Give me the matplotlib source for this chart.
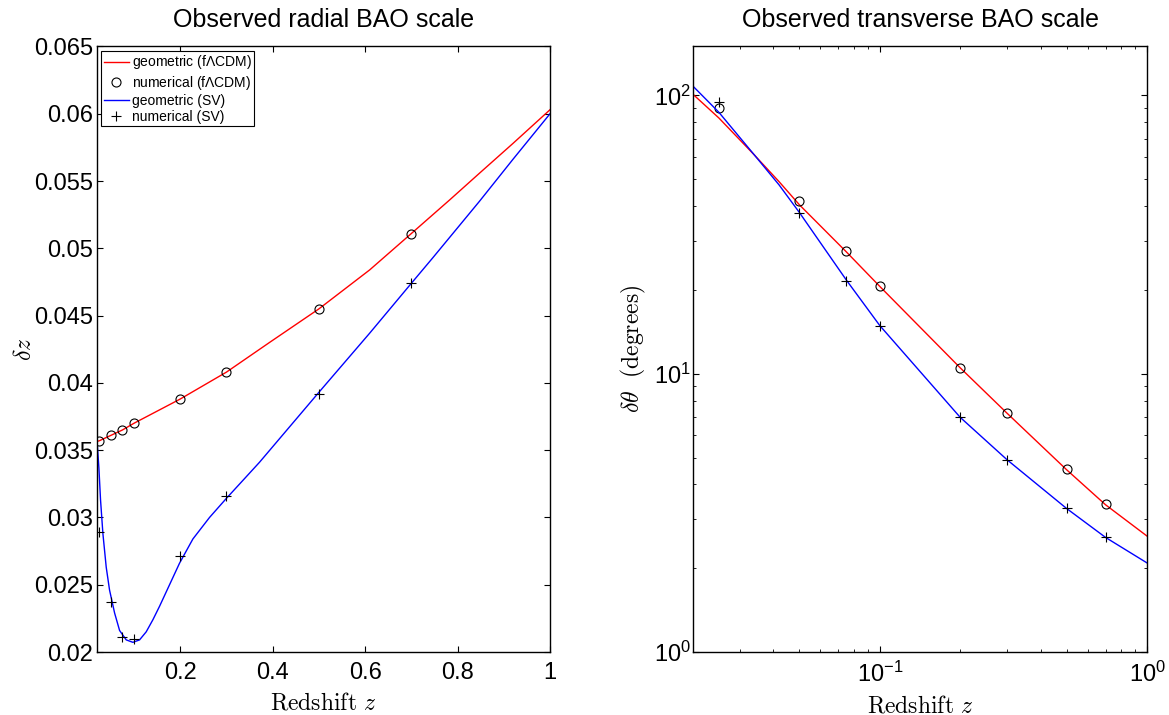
import matplotlib
matplotlib.use("Agg")
import matplotlib.pyplot as plt
import matplotlib.ticker as ticker

plt.rcParams["font.family"] = ["Liberation Sans", "DejaVu Sans"]
plt.rcParams["mathtext.fontset"] = "custom"
plt.rcParams["mathtext.rm"] = "Liberation Sans"
plt.rcParams["mathtext.it"] = "Liberation Sans:italic"
plt.rcParams["mathtext.bf"] = "Liberation Sans:bold"

# numerical points (both panels share the same redshifts)
z_num = [0.025, 0.05, 0.075, 0.1, 0.2, 0.3, 0.5, 0.7]
dz_num_lcdm = [0.0357, 0.0361, 0.0365, 0.0370, 0.0388, 0.0408, 0.0455, 0.0511]
dz_num_sv = [0.0289, 0.0237, 0.0211, 0.0210, 0.0271, 0.0316, 0.0392, 0.0474]
dth_num_lcdm = [89.9, 41.7, 27.6, 20.7, 10.5, 7.21, 4.53, 3.39]
dth_num_sv = [94.9, 37.9, 21.6, 14.9, 6.97, 4.90, 3.28, 2.58]

# geometric curves, radial
z_rad_lcdm = [0.02, 0.025, 0.05, 0.075, 0.1, 0.2, 0.3, 0.393, 0.5, 0.61,
              0.7, 0.783, 0.848, 0.92, 1.0]
dz_geo_lcdm = [0.03565, 0.0357, 0.0361, 0.0365, 0.0370, 0.0388, 0.0408, 0.0430,
               0.0455, 0.0484, 0.0511, 0.0536, 0.0556, 0.0578, 0.0603]
z_rad_sv = [0.02, 0.024, 0.0276, 0.0327, 0.0399, 0.0471, 0.058, 0.0688, 0.0832,
            0.0976, 0.112, 0.1264, 0.1409, 0.1553, 0.1769, 0.1985, 0.2274,
            0.2634, 0.2994, 0.3355, 0.3715, 0.5, 0.61, 0.7, 0.7465, 0.8475,
            0.9195, 1.0]
dz_geo_sv = [0.0357, 0.0337, 0.0313, 0.0288, 0.0263, 0.0246, 0.0229, 0.0216,
             0.0209, 0.02072, 0.0209, 0.0215, 0.0224, 0.0234, 0.0250, 0.0266,
             0.0284, 0.0300, 0.0314, 0.03275, 0.0341, 0.0393, 0.0437, 0.0474,
             0.0493, 0.0535, 0.0566, 0.0600]

# geometric curves, transverse
z_tr = [0.02, 0.025, 0.034, 0.042, 0.05, 0.075, 0.1, 0.2, 0.3, 0.5, 0.7, 1.0]
dth_geo_lcdm = [101, 83, 61, 49.0, 40.5, 27.4, 20.6, 10.5, 7.2, 4.52, 3.38, 2.61]
dth_geo_sv = [108, 87, 61, 47.7, 38.0, 21.7, 14.9, 6.97, 4.9, 3.28, 2.58, 2.09]

FS = 17
fig = plt.figure(figsize=(11.69, 7.15), dpi=100)
ax1 = fig.add_axes([0.0830, 0.0881, 0.3875, 0.8469])
ax2 = fig.add_axes([0.5928, 0.0881, 0.3884, 0.8469])

# left: radial scale
ax1.plot(z_rad_lcdm, dz_geo_lcdm, color="red", lw=1.0, label=r"geometric (f$\Lambda$CDM)")
ax1.plot(z_num, dz_num_lcdm, "o", mfc="none", mec="black", ms=6.5, mew=0.8,
         label=r"numerical (f$\Lambda$CDM)")
ax1.plot(z_rad_sv, dz_geo_sv, color="blue", lw=1.0, label="geometric (SV)")
ax1.plot(z_num, dz_num_sv, "+", color="black", ms=7.5, mew=0.8, label="numerical (SV)")
ax1.set_xlim(0.02, 1)
ax1.set_ylim(0.02, 0.065)
ax1.xaxis.set_major_locator(ticker.FixedLocator([0.2, 0.4, 0.6, 0.8, 1.0]))
ax1.yaxis.set_major_locator(ticker.MultipleLocator(0.005))
ax1.xaxis.set_major_formatter(ticker.FuncFormatter(lambda v, p: f"{v:g}"))
ax1.yaxis.set_major_formatter(ticker.FuncFormatter(lambda v, p: f"{round(v, 3):g}"))
ax1.set_title("Observed radial BAO scale", fontsize=18, pad=14)
ax1.set_xlabel(r"$\mathrm{Redshift}\ z$", fontsize=FS, math_fontfamily="cm", labelpad=6)
ax1.set_ylabel(r"$\delta z$", fontsize=FS, math_fontfamily="cm", labelpad=-1.5)
leg = ax1.legend(loc="upper left", fontsize=10, frameon=True, fancybox=False,
                 edgecolor="black", framealpha=1, borderaxespad=0.3,
                 handlelength=1.8, handletextpad=0.2, labelspacing=0.15,
                 borderpad=0.2)
leg.get_frame().set_linewidth(0.8)

# right: transverse scale
ax2.loglog(z_tr, dth_geo_lcdm, color="red", lw=1.0)
ax2.loglog(z_num, dth_num_lcdm, "o", mfc="none", mec="black", ms=6.5, mew=0.8)
ax2.loglog(z_tr, dth_geo_sv, color="blue", lw=1.0)
ax2.loglog(z_num, dth_num_sv, "+", color="black", ms=7.5, mew=0.8)
ax2.set_xlim(0.02, 1)
ax2.set_ylim(1, 150)
ax2.set_title("Observed transverse BAO scale", fontsize=18, pad=14)
ax2.set_xlabel(r"$\mathrm{Redshift}\ z$", fontsize=FS, math_fontfamily="cm", labelpad=6)
ax2.set_ylabel(r"$\delta\theta\ \ \mathrm{(degrees)}$", fontsize=FS,
               math_fontfamily="cm", labelpad=4)

for ax in (ax1, ax2):
    ax.tick_params(which="both", direction="in", top=True, right=True, labelsize=FS)
    ax.tick_params(which="major", length=4, width=0.8)
    ax.tick_params(which="minor", length=2.5, width=0.6)
    ax.tick_params(axis="x", pad=7)
    ax.tick_params(axis="y", pad=3)
    for s in ax.spines.values():
        s.set_linewidth(1.0)
ax2.tick_params(axis="y", pad=1.5)

fig.savefig("out.png", dpi=100)
